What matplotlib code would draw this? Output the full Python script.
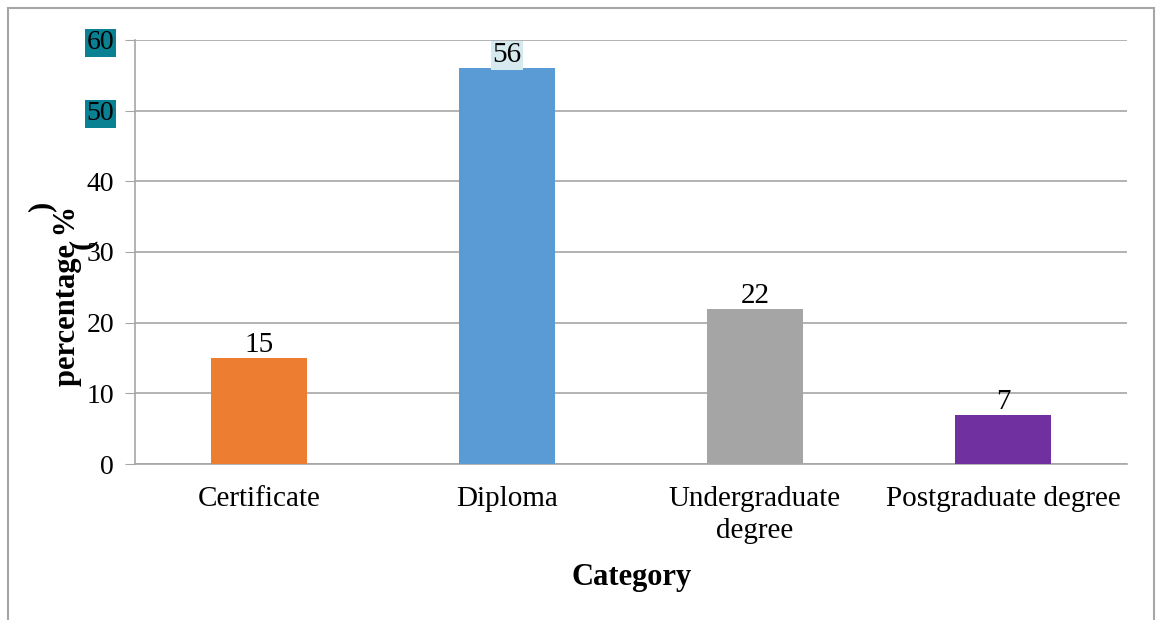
import matplotlib
matplotlib.use("Agg")
import matplotlib.pyplot as plt
from matplotlib.patches import Rectangle

categories = ["Certificate", "Diploma", "Undergraduate\ndegree", "Postgraduate degree"]
values = [15, 56, 22, 7]
colors = ["#ED7D31", "#5B9BD5", "#A5A5A5", "#7030A0"]
yticks = [0, 10, 20, 30, 40, 50, 60]

plt.rcParams['font.family'] = ['Liberation Serif', 'DejaVu Serif']

fig = plt.figure(figsize=(11.56, 6.2), dpi=100)
ax = fig.add_axes([0.1168, 0.2516, 0.8581, 0.6839])

# outer frame of the chart
fig.patches.append(Rectangle((8 / 1156, -0.05), 1146 / 1156, 1.05 - 8 / 620,
                             transform=fig.transFigure, fill=False,
                             edgecolor="#A6A6A6", linewidth=1.5))

x = range(len(categories))
bars = ax.bar(x, values, width=0.39, color=colors, zorder=3)

for i, v in enumerate(values):
    t = ax.text(i, v, str(v), ha="center", va="bottom", fontsize=21, zorder=4)
    if v == max(values):
        t.set_bbox(dict(facecolor="#D5E9EE", edgecolor="none", pad=1))

ax.set_xlim(-0.5, len(categories) - 0.5)
ax.set_ylim(0, 60)
ax.set_yticks(yticks)
ax.set_yticklabels([str(t) for t in yticks])
ax.set_xticks(list(x))
ax.set_xticklabels(categories, fontsize=21, linespacing=1.3)
ax.tick_params(axis="y", labelsize=20, length=7, color="#A6A6A6", pad=8)
ax.tick_params(axis="x", length=0, pad=16)

for lab in ax.get_yticklabels():
    if lab.get_text() in ("50", "60"):
        lab.set_bbox(dict(facecolor="#0A8093", edgecolor="none", pad=1))

ax.grid(axis="y", color="#A6A6A6", linewidth=1.2, zorder=0)
ax.set_axisbelow(True)
for s in ["top", "right"]:
    ax.spines[s].set_visible(False)
for s in ["left", "bottom"]:
    ax.spines[s].set_color("#A6A6A6")
    ax.spines[s].set_linewidth(1.2)

fig.text(632 / 1156, 1 - 578 / 620, "Category", ha="center", va="center",
         fontsize=22, fontweight="bold")
fig.text(68 / 1156, 1 - 296 / 620, "percentage %", ha="center", va="center",
         rotation=90, fontsize=22, fontweight="bold")
fig.text(42 / 1156, 1 - 206 / 620, ")", ha="center", va="center",
         rotation=90, fontsize=22, fontweight="bold")
fig.text(82 / 1156, 1 - 244 / 620, "(", ha="center", va="center",
         rotation=90, fontsize=22, fontweight="bold")

fig.savefig("out.png", dpi=100)
